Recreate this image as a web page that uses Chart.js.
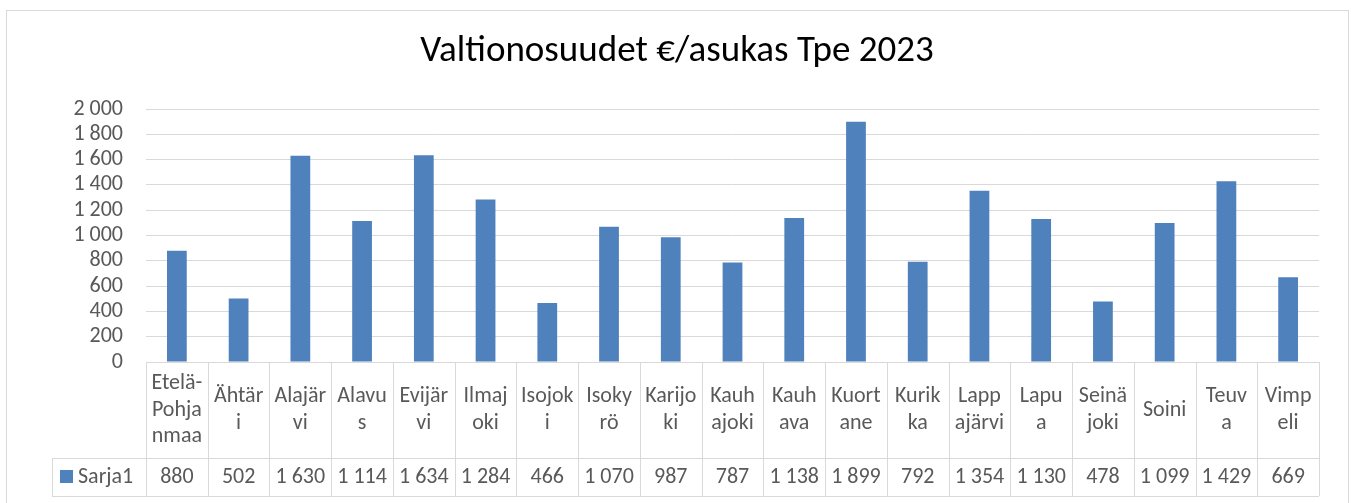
<!DOCTYPE html>
<html>
<head>
<meta charset="utf-8">
<script src="https://cdn.jsdelivr.net/npm/chart.js@4/dist/chart.umd.min.js"></script>
<style>
  body { margin: 0; background: #fff; }
  canvas { display: block; }
</style>
</head>
<body>
<canvas id="myChart" width="1351" height="503"></canvas>
<script>
const title = "Valtionosuudet €/asukas Tpe 2023";
const seriesName = "Sarja1";
const labels = ["Etelä-Pohjanmaa", "Ähtäri", "Alajärvi", "Alavus", "Evijärvi", "Ilmajoki", "Isojoki",
  "Isokyrö", "Karijoki", "Kauhajoki", "Kauhava", "Kuortane", "Kurikka", "Lappajärvi", "Lapua",
  "Seinäjoki", "Soini", "Teuva", "Vimpeli"];
// how the labels wrap inside the data table cells
const labelLines = [["Etelä-", "Pohja", "nmaa"], ["Ähtär", "i"], ["Alajär", "vi"], ["Alavu", "s"],
  ["Evijär", "vi"], ["Ilmaj", "oki"], ["Isojok", "i"], ["Isoky", "rö"], ["Karijo", "ki"],
  ["Kauh", "ajoki"], ["Kauh", "ava"], ["Kuort", "ane"], ["Kurik", "ka"], ["Lapp", "ajärvi"],
  ["Lapu", "a"], ["Seinä", "joki"], ["Soini"], ["Teuv", "a"], ["Vimp", "eli"]];
const values = [880, 502, 1630, 1114, 1634, 1284, 466, 1070, 987, 787, 1138, 1899, 792, 1354, 1130, 478, 1099, 1429, 669];
const yTicks = [0, 200, 400, 600, 800, 1000, 1200, 1400, 1600, 1800, 2000];

const FONT = "Carlito, Calibri, Lato, sans-serif";
const textColor = "#595959";
const lineColor = "#d9d9d9";
const barColor = "#4f81bd";

function fmt(v) {
  return String(v).replace(/\B(?=(\d{3})+(?!\d))/g, " ");
}

const tablePlugin = {
  id: "tablePlugin",
  afterDraw(chart) {
    const ctx = chart.ctx;
    const area = chart.chartArea;
    const x = chart.scales.x;
    const n = labels.length;
    const w = (area.right - area.left) / n;
    const top = area.bottom;
    const mid = top + 96;
    const bot = top + 134;
    ctx.save();

    // outer chart border
    ctx.strokeStyle = lineColor;
    ctx.lineWidth = 1;
    ctx.strokeRect(6.5, 10.5, 1342, 520);

    // title
    ctx.fillStyle = "#000";
    ctx.font = "37px " + FONT;
    ctx.textAlign = "center";
    ctx.textBaseline = "middle";
    ctx.fillText(title, 677, 52);

    // table lines
    ctx.beginPath();
    for (let i = 0; i <= n; i++) {
      const px = Math.round(area.left + i * w) + 0.5;
      ctx.moveTo(px, top);
      ctx.lineTo(px, bot);
    }
    ctx.moveTo(52.5, mid);
    ctx.lineTo(52.5, bot);
    ctx.moveTo(52, Math.round(mid) + 0.5);
    ctx.lineTo(area.right, Math.round(mid) + 0.5);
    ctx.moveTo(52, Math.round(bot) + 0.5);
    ctx.lineTo(area.right, Math.round(bot) + 0.5);
    ctx.stroke();

    // category labels and values
    ctx.fillStyle = textColor;
    ctx.font = "22px " + FONT;
    const lh = 26.7;
    for (let i = 0; i < n; i++) {
      const cx = x.getPixelForValue(i);
      const lines = labelLines[i];
      const y0 = (top + mid) / 2 - (lines.length - 1) * lh / 2;
      lines.forEach((t, k) => ctx.fillText(t, cx, y0 + k * lh));
      ctx.fillText(fmt(values[i]), cx, (mid + bot) / 2);
    }

    // legend key
    ctx.fillStyle = barColor;
    ctx.fillRect(60, 470, 13, 13);
    ctx.fillStyle = textColor;
    ctx.textAlign = "left";
    ctx.fillText(seriesName, 78, (mid + bot) / 2);
    ctx.restore();
  }
};

const ctx = document.getElementById("myChart");
const myChart = new Chart(ctx, {
  type: "bar",
  data: {
    labels: labels,
    datasets: [
      {
        label: seriesName,
        data: values,
        backgroundColor: barColor,
        barPercentage: 0.32,
        categoryPercentage: 1,
      },
    ],
  },
  options: {
    responsive: false,
    animation: false,
    devicePixelRatio: 1,
    layout: {
      padding: { top: 109, right: 32, bottom: 141, left: 0 },
    },
    plugins: {
      legend: { display: false },
      title: { display: false },
      tooltip: { enabled: false },
    },
    scales: {
      x: {
        ticks: { display: false },
        grid: { display: false, drawTicks: false },
        border: { display: true, color: lineColor },
      },
      y: {
        min: 0,
        max: 2000,
        afterFit(scale) {
          scale.width = 146;
        },
        afterBuildTicks(scale) {
          scale.ticks = yTicks.map((v) => ({ value: v }));
        },
        ticks: {
          color: textColor,
          font: { family: FONT, size: 22 },
          padding: 23,
          autoSkip: false,
          callback: (v) => fmt(v),
        },
        grid: { color: lineColor, drawTicks: false },
        border: { display: false },
      },
    },
  },
  plugins: [tablePlugin],
});
</script>
</body>
</html>
